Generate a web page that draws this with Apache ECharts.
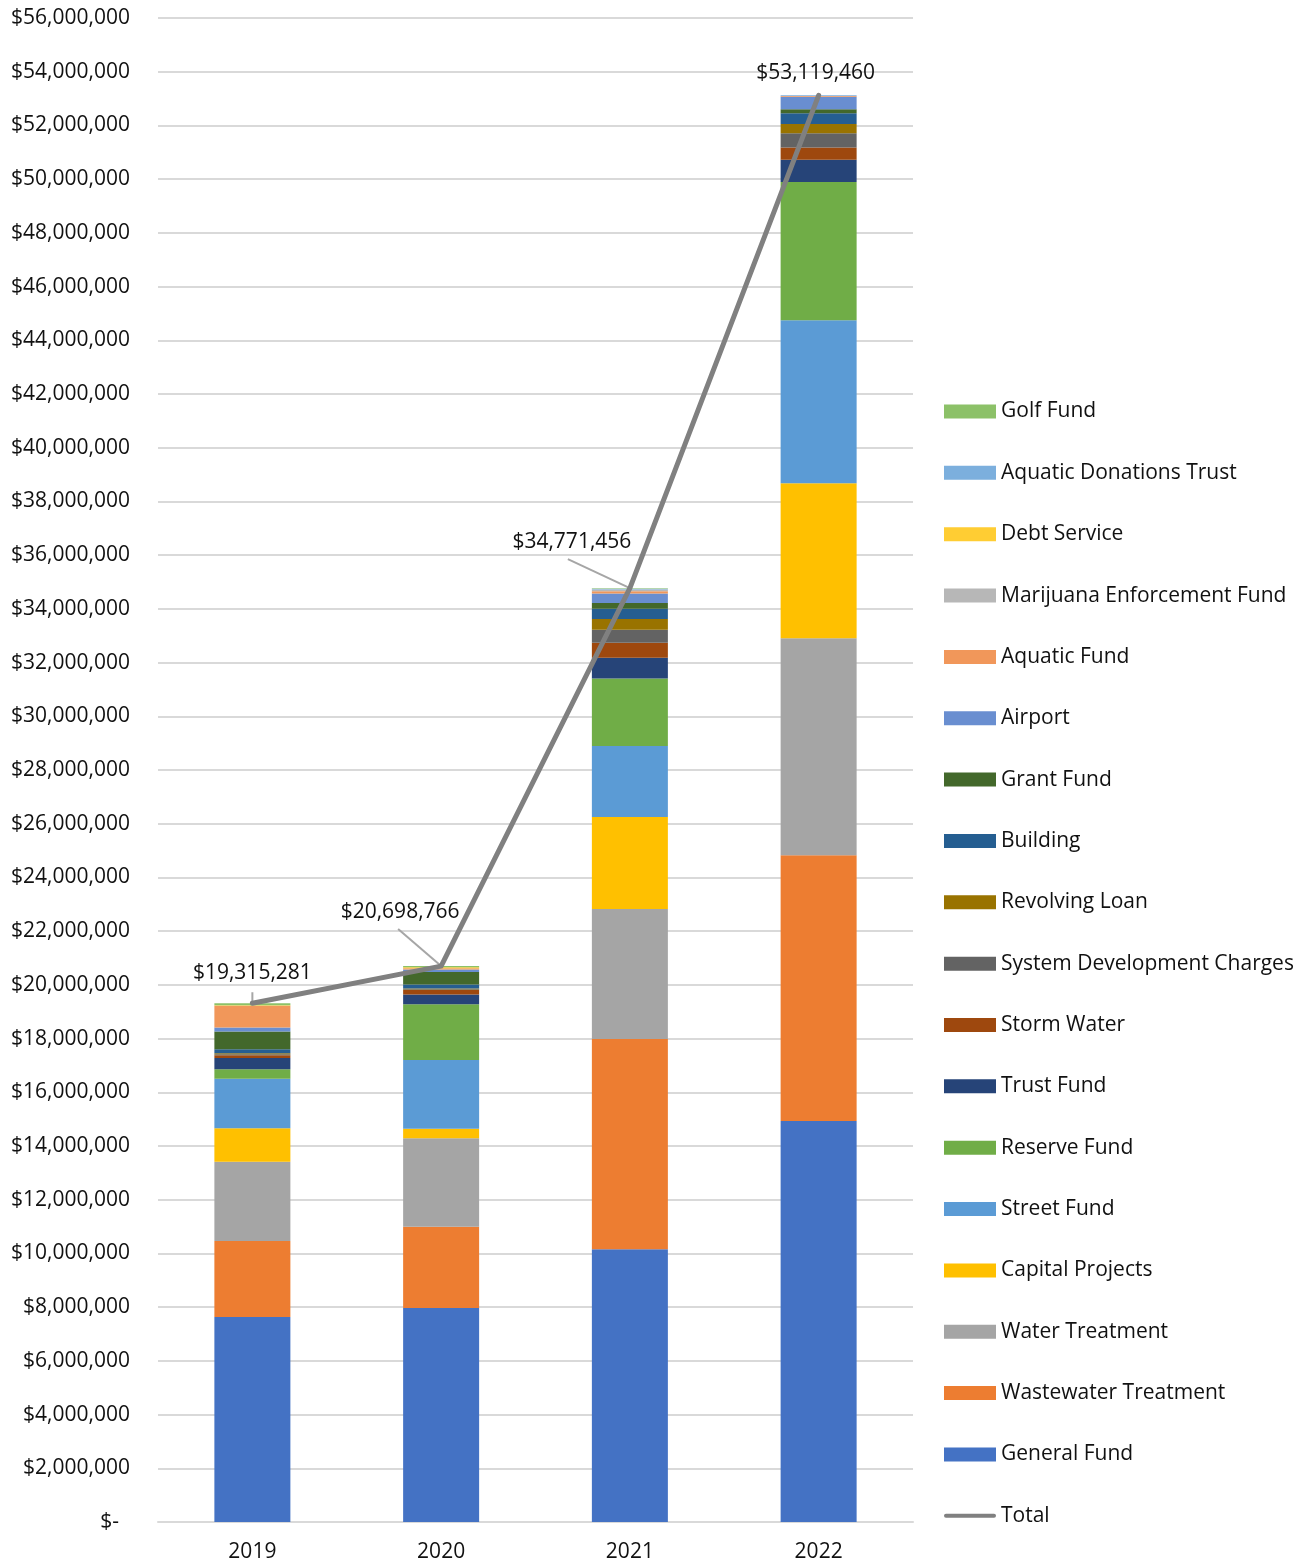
<!DOCTYPE html>
<html>
<head>
<meta charset="utf-8">
<style>
  html, body { margin: 0; padding: 0; background: #fff; }
  #chart { width: 1304px; height: 1564px; }
</style>
<script src="https://cdn.jsdelivr.net/npm/echarts@6/dist/echarts.min.js"></script>
</head>
<body>
<div id="chart"></div>
<script>
// Fiscal years on the category axis
const years = ['2019', '2020', '2021', '2022'];

// Fund balances per year (USD), listed bottom of stack to top
const generalFund        = [7630000, 7970000, 10160000, 14930000];
const wastewaterTreat    = [2830000, 3020000, 7820000, 9900000];
const waterTreatment     = [2950000, 3300000, 4840000, 8080000];
const capitalProjects    = [1250000, 350000, 3430000, 5770000];
const streetFund         = [1840000, 2560000, 2640000, 6070000];
const reserveFund        = [360000, 2080000, 2520000, 5140000];
const trustFund          = [420000, 360000, 770000, 830000];
const stormWater         = [100000, 170000, 560000, 460000];
const systemDevCharges   = [40000, 30000, 480000, 530000];
const revolvingLoan      = [30000, 20000, 400000, 340000];
const building           = [150000, 150000, 380000, 400000];
const grantFund          = [660000, 470000, 220000, 150000];
const airport            = [150000, 90000, 350000, 470000];
const aquaticFund        = [810000, 50000, 90000, 30000];
const marijuanaEnforce   = [0, 0, 60000, 0];
const debtService        = [25000, 40000, 0, 0];
const aquaticDonations   = [0, 0, 30000, 20000];
const golfFund           = [70000, 40000, 20000, 0];

// Year totals
const totals = [19315281, 20698766, 34771456, 53119460];

// Y axis range and step
const yMin = 0, yMax = 56000000, yStep = 2000000;

const funds = [
  { name: 'General Fund', data: generalFund, color: '#4472C4' },
  { name: 'Wastewater Treatment', data: wastewaterTreat, color: '#ED7D31' },
  { name: 'Water Treatment', data: waterTreatment, color: '#A5A5A5' },
  { name: 'Capital Projects', data: capitalProjects, color: '#FFC000' },
  { name: 'Street Fund', data: streetFund, color: '#5B9BD5' },
  { name: 'Reserve Fund', data: reserveFund, color: '#70AD47' },
  { name: 'Trust Fund', data: trustFund, color: '#264478' },
  { name: 'Storm Water', data: stormWater, color: '#9E480E' },
  { name: 'System Development Charges', data: systemDevCharges, color: '#636363' },
  { name: 'Revolving Loan', data: revolvingLoan, color: '#997300' },
  { name: 'Building', data: building, color: '#255E91' },
  { name: 'Grant Fund', data: grantFund, color: '#43682B' },
  { name: 'Airport', data: airport, color: '#698ED0' },
  { name: 'Aquatic Fund', data: aquaticFund, color: '#F1975A' },
  { name: 'Marijuana Enforcement Fund', data: marijuanaEnforce, color: '#B7B7B7' },
  { name: 'Debt Service', data: debtService, color: '#FFCD33' },
  { name: 'Aquatic Donations Trust', data: aquaticDonations, color: '#7CAFDD' },
  { name: 'Golf Fund', data: golfFund, color: '#8CC168' }
];

const FONT = 'Open Sans';
const FONT_SIZE = 21;
const TEXT = '#111';

function money(v) {
  if (v === 0) return '$-  ';
  return '$' + Math.round(v).toLocaleString('en-US');
}

// Pixel offsets of the total labels from their points
const labelShift = [
  { dx: 0, dy: -14 },
  { dx: -41, dy: -38 },
  { dx: -58, dy: -30 },
  { dx: -3, dy: -6 }
];
// Leader lines: start offset from the point (null = no leader)
const leaderFrom = [[0, -11], [-43, -37], [-62, -29], null];

const series = funds.map(f => ({
  name: f.name,
  type: 'bar',
  stack: 'funds',
  barWidth: 76,
  data: f.data,
  itemStyle: { color: f.color },
  emphasis: { disabled: true }
}));

const totalSeriesIndex = series.length;
series.push({
  name: 'Total',
  type: 'line',
  data: totals,
  symbol: 'circle',
  symbolSize: 1,
  z: 10,
  lineStyle: { color: '#808080', width: 5, cap: 'round', join: 'round' },
  itemStyle: { color: '#808080' },
  label: {
    show: true,
    position: 'top',
    distance: 5,
    formatter: p => money(p.value),
    fontFamily: FONT,
    fontSize: FONT_SIZE,
    color: TEXT
  },
  labelLayout: p => ({ dx: labelShift[p.dataIndex].dx, dy: labelShift[p.dataIndex].dy }),
  emphasis: { disabled: true }
});

const legendData = funds.slice().reverse().map(f => ({ name: f.name, icon: 'rect' }));
legendData.push({ name: 'Total', icon: 'path://M2,0L50,0A2,2 0 0 1 50,4L2,4A2,2 0 0 1 2,0Z' });

const chart = echarts.init(document.getElementById('chart'), null, { renderer: 'canvas' });
chart.setOption({
  animation: false,
  backgroundColor: '#fff',
  textStyle: { fontFamily: FONT },
  grid: { left: 158, right: 391, top: 18, bottom: 42, containLabel: false },
  legend: {
    orient: 'vertical',
    left: 939,
    top: 396,
    itemWidth: 52,
    itemHeight: 14,
    itemGap: 40.35,
    selectedMode: false,
    data: legendData,
    textStyle: { fontFamily: FONT, fontSize: FONT_SIZE, color: TEXT, lineHeight: 20 }
  },
  xAxis: {
    type: 'category',
    data: years,
    axisTick: { show: false },
    axisLine: { lineStyle: { color: '#D9D9D9', width: 2 } },
    axisLabel: { fontFamily: FONT, fontSize: FONT_SIZE, color: TEXT, margin: 20 }
  },
  yAxis: {
    type: 'value',
    min: yMin,
    max: yMax,
    interval: yStep,
    axisLine: { show: false },
    axisTick: { show: false },
    splitLine: { lineStyle: { color: '#D9D9D9', width: 2 } },
    axisLabel: { fontFamily: FONT, fontSize: FONT_SIZE, color: TEXT, margin: 28, formatter: money }
  },
  series: series
});

// Leader lines from the moved total labels back to their points
const leaders = [];
totals.forEach((v, i) => {
  const from = leaderFrom[i];
  if (!from) return;
  const pt = chart.convertToPixel({ seriesIndex: totalSeriesIndex }, [i, v]);
  leaders.push({
    type: 'line',
    z: 5,
    silent: true,
    shape: { x1: pt[0] + from[0], y1: pt[1] + from[1], x2: pt[0], y2: pt[1] },
    style: { stroke: '#A6A6A6', lineWidth: 2 }
  });
});
chart.setOption({ graphic: leaders });
</script>
</body>
</html>
